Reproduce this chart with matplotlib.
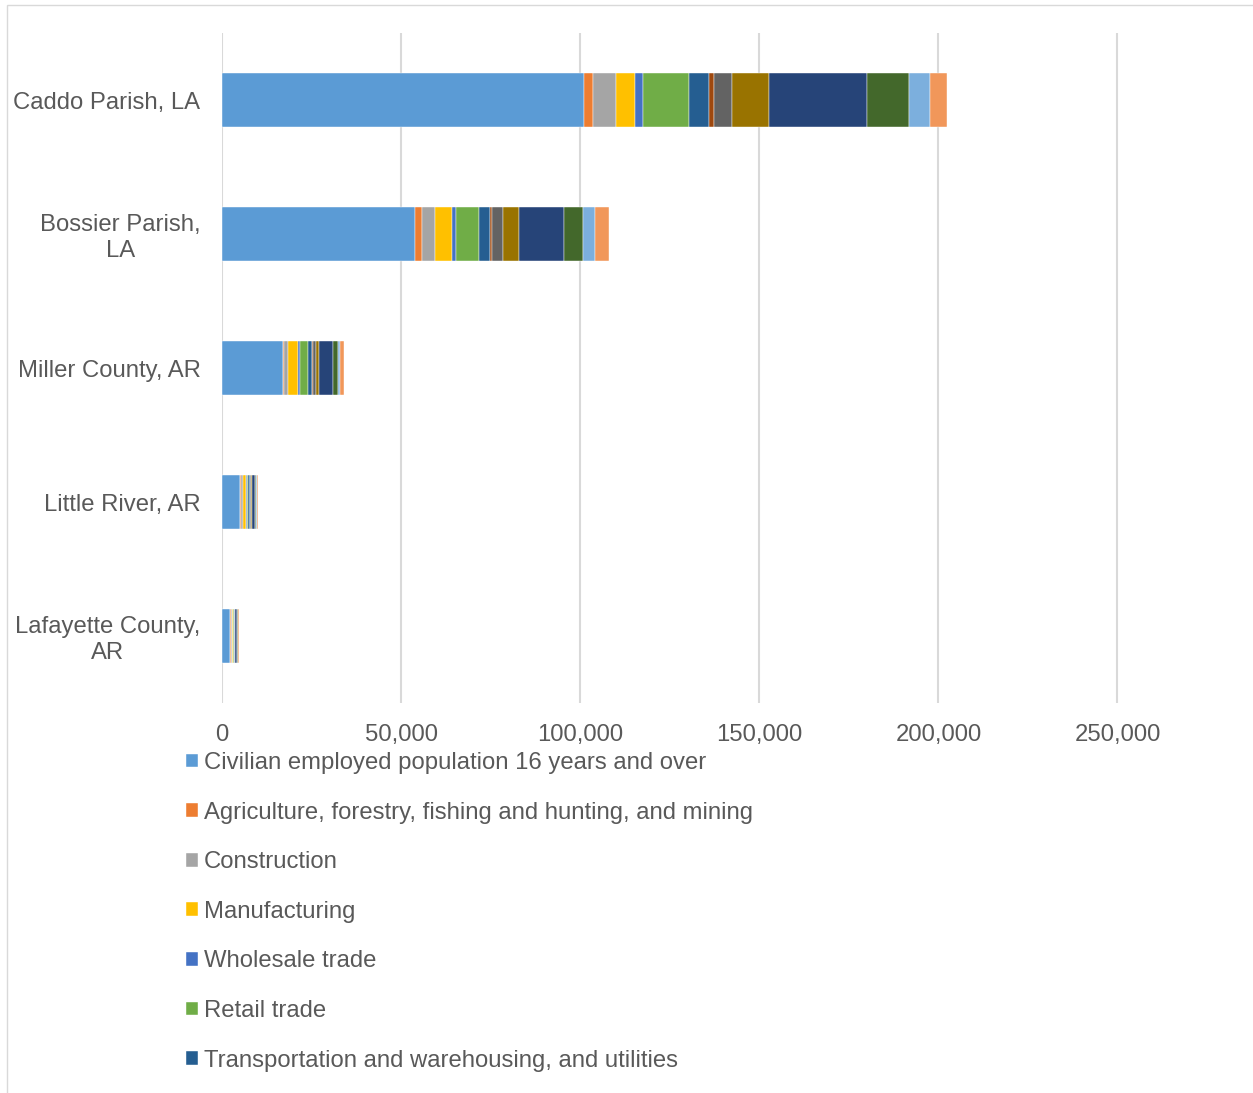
#!/usr/bin/env python3
"""Stacked horizontal bars: employment by industry for five parishes/counties."""

import matplotlib.pyplot as plt
from matplotlib.patches import Rectangle
from matplotlib.ticker import FuncFormatter

AREAS = [
    "Caddo Parish, LA",
    "Bossier Parish,\nLA",
    "Miller County, AR",
    "Little River, AR",
    "Lafayette County,\nAR",
]

# values in persons, one list per series, same order as AREAS
civilian = [101100, 53900, 16900, 5000, 2350]
agriculture = [2600, 2000, 500, 350, 250]
construction = [6200, 3600, 1000, 400, 150]
manufacturing = [5500, 4600, 2900, 1000, 300]
wholesale = [2000, 1300, 400, 100, 50]
retail = [12900, 6300, 2400, 500, 200]
transportation = [5700, 3000, 1000, 400, 200]
information = [1400, 600, 200, 50, 30]
finance = [5000, 3100, 900, 200, 100]
professional = [10200, 4600, 1000, 250, 100]
education = [27500, 12500, 3800, 1100, 550]
arts = [11600, 5200, 1300, 200, 100]
other_services = [6000, 3500, 650, 250, 120]
public_admin = [4600, 3900, 1200, 200, 200]

SERIES = [
    ("Civilian employed population 16 years and over", civilian, "#5B9BD5"),
    ("Agriculture, forestry, fishing and hunting, and mining", agriculture, "#ED7D31"),
    ("Construction", construction, "#A5A5A5"),
    ("Manufacturing", manufacturing, "#FFC000"),
    ("Wholesale trade", wholesale, "#4472C4"),
    ("Retail trade", retail, "#70AD47"),
    ("Transportation and warehousing, and utilities", transportation, "#255E91"),
    ("Information", information, "#9E480E"),
    ("Finance and insurance, and real estate and rental and leasing", finance, "#636363"),
    ("Professional, scientific, and management, and administrative and waste management services", professional, "#997300"),
    ("Educational services, and health care and social assistance", education, "#264478"),
    ("Arts, entertainment, and recreation, and accommodation and food services", arts, "#43682B"),
    ("Other services, except public administration", other_services, "#7CAFDD"),
    ("Public administration", public_admin, "#F1975A"),
]
LEGEND_ROWS = 7  # rows that fit above the bottom edge

TEXT = "#595959"
GRID = "#D9D9D9"
FS = 17.2

W, H = 1253, 1093

plt.rcParams["font.family"] = ["Liberation Sans", "DejaVu Sans"]

fig = plt.figure(figsize=(W / 100, H / 100), dpi=100)

# chart-area border (runs off the right and bottom edges)
fig.patches.append(Rectangle((7 / W, -0.1), 1.2, (H - 5) / H + 0.1,
                             transform=fig.transFigure, fill=False,
                             edgecolor=GRID, linewidth=1.0))

# plot area; the 300,000 edge sits just past the right side of the figure
x0, x300 = 222, 1296.6
top, bottom = 33, 703
ax = fig.add_axes([x0 / W, 1 - bottom / H, (x300 - x0) / W, (bottom - top) / H])

ypos = list(range(len(AREAS)))
left = [0] * len(AREAS)
handles = []
for label, values, color in SERIES:
    bars = ax.barh(ypos, values, left=left, height=0.4, color=color,
                   edgecolor="white", linewidth=0.3, label=label)
    handles.append(bars)
    left = [l + v for l, v in zip(left, values)]

ax.set_xlim(0, 300000)
ax.set_ylim(len(AREAS) - 0.5, -0.5)
ax.set_xticks(range(0, 250001, 50000))
ax.xaxis.set_major_formatter(FuncFormatter(lambda v, _: f"{v:,.0f}"))
ax.set_yticks(ypos)
ax.set_yticklabels(AREAS, multialignment="center")

ax.tick_params(axis="x", length=0, pad=15, labelsize=FS, labelcolor=TEXT)
ax.tick_params(axis="y", length=0, pad=15.5, labelsize=FS, labelcolor=TEXT)
for s in ax.spines.values():
    s.set_visible(False)
ax.grid(axis="x", color=GRID, linewidth=1.5)
ax.set_axisbelow(True)

fig.legend(handles=handles[:LEGEND_ROWS], loc="upper left",
           bbox_to_anchor=(186 / W, 1 - 752 / H),
           frameon=False, fontsize=FS, labelcolor=TEXT,
           handlelength=0.52, handleheight=0.52, handletextpad=0.22,
           labelspacing=1.155, borderpad=0, borderaxespad=0)

fig.savefig("out.png", dpi=100)
